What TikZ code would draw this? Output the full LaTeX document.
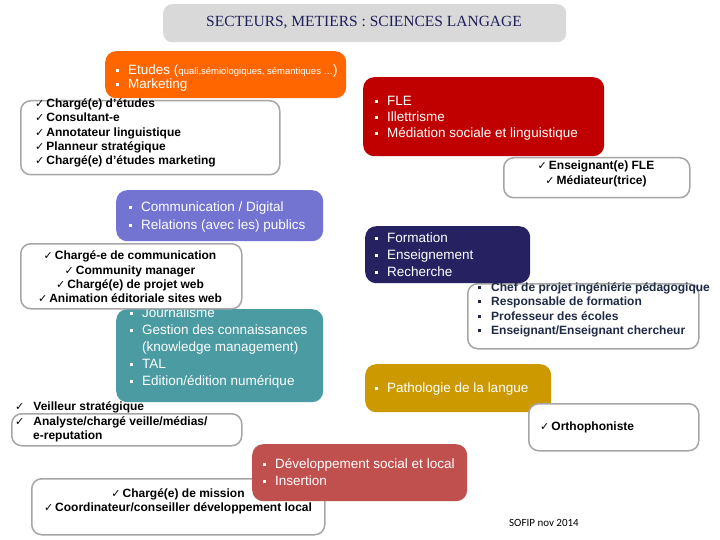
\documentclass[tikz,border=0pt]{standalone}
\usepackage{fontspec}
\setmainfont{Liberation Sans}
\newfontfamily\serifft{Liberation Serif}
\newfontfamily\dejavu{DejaVu Sans}
\newfontfamily\calib{Carlito}
\definecolor{titlegray}{HTML}{D9D9D9}
\definecolor{titleblue}{HTML}{1F1F5A}
\definecolor{boxgray}{HTML}{A6A6A6}
\definecolor{orangeC}{HTML}{FF6600}
\definecolor{redC}{HTML}{C00000}
\definecolor{purpleC}{HTML}{7373D1}
\definecolor{tealC}{HTML}{4A9BA2}
\definecolor{navyC}{HTML}{262262}
\definecolor{goldC}{HTML}{CC9900}
\definecolor{devC}{HTML}{C0504D}
\definecolor{darkT}{HTML}{1F2A44}
\newcommand{\ck}{{\dejavu\mdseries\fontsize{11}{11}\selectfont ✓}\hspace{2pt}}
\newcommand{\bul}{\makebox[12pt][l]{\raisebox{2.5pt}{\rule{3pt}{3pt}}}}
\newcommand{\bulb}{\makebox[13pt][l]{\raisebox{2.5pt}{\rule{3pt}{3pt}}}}
\newcommand{\colf}{\fontsize{13.5}{16.7}\selectfont}
\newcommand{\listf}{\bfseries\fontsize{12}{14.3}\selectfont}
\tikzset{
  listbox/.style={draw=boxgray, line width=1.5pt, rounded corners=10pt, fill=white, anchor=north west, inner sep=0pt},
  colbox/.style={rounded corners=11pt, draw=none, anchor=north west, inner sep=0pt},
  coltext/.style={text=white, font=\colf, align=left, inner sep=0pt, anchor=west},
  listtext/.style={font=\listf, align=left, inner sep=0pt, anchor=west},
  listctext/.style={font=\listf, align=center, inner sep=0pt, anchor=center},
}
\begin{document}
\begin{tikzpicture}[x=1pt,y=-1pt]
\useasboundingbox[fill=white] (0,0) rectangle (720,540);
% title
\node[colbox, fill=titlegray, minimum width=403pt, minimum height=38pt, rounded corners=9pt] (title) at (163,4) {};
\node[font=\serifft\fontsize{15.5}{18}\selectfont, text=titleblue, inner sep=0pt] (titletext) at (364,23) {SECTEURS, METIERS : SCIENCES LANGAGE};
% box 1
\node[listbox, minimum width=259pt, minimum height=74pt] (b1) at (20,100) {};
\node[listtext] (b1t) at (35,133) {\ck Chargé(e) d’études\\\ck Consultant-e\\\ck Annotateur linguistique\\\ck Planneur stratégique\\\ck Chargé(e) d’études marketing};
% orange
\node[colbox, fill=orangeC, minimum width=241pt, minimum height=47pt] (orange) at (105,51) {};
\node[coltext, font=\fontsize{13.5}{14.5}\selectfont] (oranget) at (116,78) {\bul Etudes ({\fontsize{9.5}{10}\selectfont quali,sémiologiques, sémantiques …})\\\bul Marketing};
% red
\node[colbox, fill=redC, minimum width=241pt, minimum height=79pt] (red) at (363,77) {};
\node[coltext, font=\fontsize{13.5}{15.8}\selectfont] (redt) at (375,118) {\bul FLE\\\bul Illettrisme\\\bul Médiation sociale et linguistique};
% box 4
\node[listbox, minimum width=186pt, minimum height=40pt] (b4) at (503,157) {};
\node[listctext] (b4t) at (596,174) {\ck Enseignant(e) FLE\\\ck Médiateur(trice)};
% purple
\node[colbox, fill=purpleC, minimum width=207pt, minimum height=51pt] (purple) at (116,190) {};
\node[coltext, font=\fontsize{13.5}{17.5}\selectfont] (purplet) at (129,217) {\bul Communication / Digital\\\bul Relations (avec les) publics};
% teal
\node[colbox, fill=tealC, minimum width=207pt, minimum height=93pt] (teal) at (116,309) {};
\node[coltext, font=\fontsize{13.5}{17.2}\selectfont] (tealt) at (130,348) {\bul Journalisme\\\bul Gestion des connaissances\\\makebox[12pt]{}(knowledge management)\\\bul TAL\\\bul Edition/édition numérique};
% box 6
\node[listbox, minimum width=221pt, minimum height=65pt] (b6) at (20,243) {};
\node[listctext] (b6t) at (130,277) {\ck Chargé-e de communication\\\ck Community manager\\\ck Chargé(e) de projet web\\\ck Animation éditoriale sites web};
% box 8
\node[listbox, minimum width=230pt, minimum height=32pt] (b8) at (11,413) {};
\node[listtext] (b8t) at (15,422) {\ck\hspace{7pt}Veilleur stratégique\\\ck\hspace{7pt}Analyste/chargé veille/médias/\\\makebox[18pt]{}e-reputation};
% box 10
\node[listbox, minimum width=231pt, minimum height=65pt] (b10) at (467,283) {};
\node[listtext, text=darkT] (b10t) at (478,310) {\bulb Chef de projet ingéniérie pédagogique\\\bulb Responsable de formation\\\bulb Professeur des écoles\\\bulb Enseignant/Enseignant chercheur};
% navy
\node[colbox, fill=navyC, minimum width=165pt, minimum height=57pt] (navy) at (365,226) {};
\node[coltext, font=\fontsize{13.5}{17}\selectfont] (navyt) at (375,255) {\bul Formation\\\bul Enseignement\\\bul Recherche};
% gold
\node[colbox, fill=goldC, minimum width=186pt, minimum height=48pt] (gold) at (365,364) {};
\node[coltext] (goldt) at (375,389) {\bul Pathologie de la langue};
% ortho
\node[listbox, minimum width=170pt, minimum height=47pt] (b12) at (528,403) {};
\node[listtext] (b12t) at (540,427) {\ck Orthophoniste};
% box 14
\node[listbox, minimum width=293pt, minimum height=56pt] (b14) at (31,478) {};
\node[listctext] (b14t) at (178,501) {\ck Chargé(e) de mission\\\ck Coordinateur/conseiller développement local};
% dev
\node[colbox, fill=devC, minimum width=215pt, minimum height=57pt] (dev) at (252,444) {};
\node[coltext, font=\fontsize{13.5}{16.2}\selectfont] (devt) at (263,472) {\bul Développement social et local\\\bul Insertion};
% footer
\node[font=\calib\fontsize{11}{12}\selectfont, inner sep=0pt] (sofip) at (544,523) {SOFIP nov 2014};
\end{tikzpicture}
\end{document}
